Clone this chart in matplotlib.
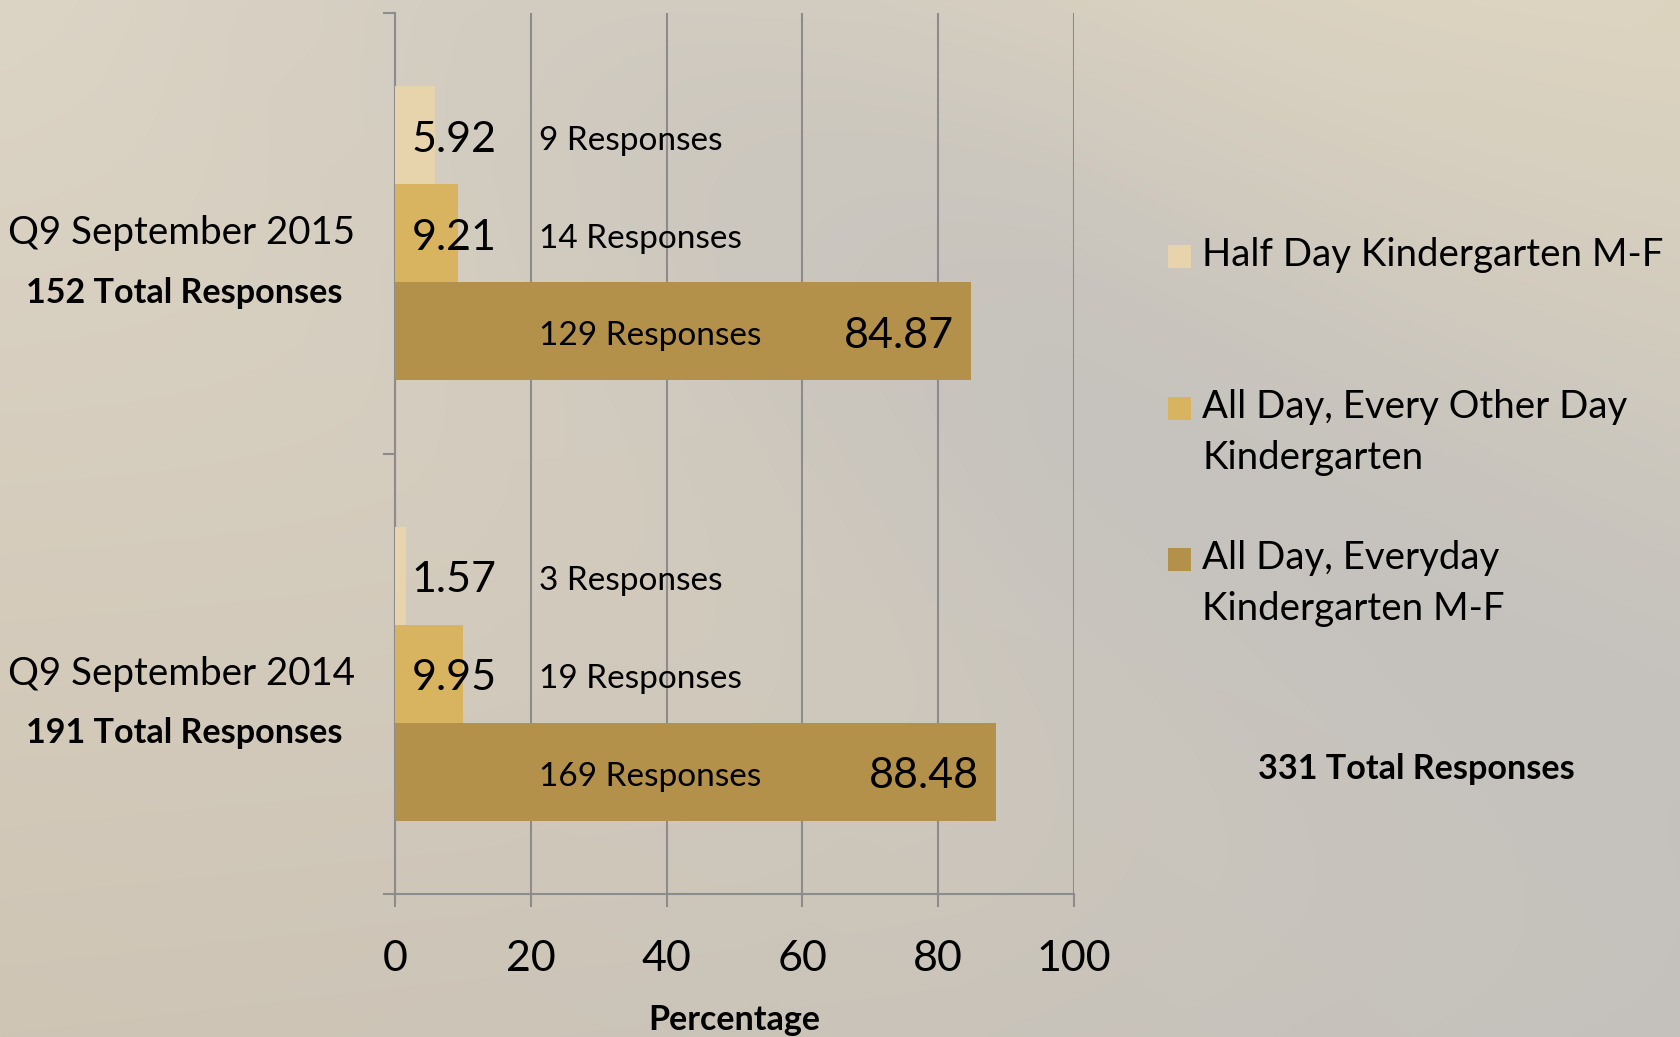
import numpy as np
import matplotlib
matplotlib.use("Agg")
import matplotlib.pyplot as plt
from matplotlib.patches import Rectangle

# ---------------- data ----------------
categories = ["Q9 September 2014", "Q9 September 2015"]
category_totals = ["191 Total Responses", "152 Total Responses"]
series_names = ["Half Day Kindergarten M-F",
                "All Day, Every Other Day\nKindergarten",
                "All Day, Everyday\nKindergarten M-F"]
half_day = [1.57, 5.92]
every_other = [9.95, 9.21]
everyday = [88.48, 84.87]
half_day_resp = ["3 Responses", "9 Responses"]
every_other_resp = ["19 Responses", "14 Responses"]
everyday_resp = ["169 Responses", "129 Responses"]
grand_total = "331 Total Responses"
x_ticks = [0, 20, 40, 60, 80, 100]
x_label = "Percentage"

colors = ["#e8d4ac", "#d9b460", "#b3914b"]
FONT = "Lato"

W, H = 1680, 1037
fig = plt.figure(figsize=(W / 100, H / 100), dpi=100)

# ---------- background gradient ----------
bg = fig.add_axes([0, 0, 1, 1], zorder=-10)
yy, xx = np.mgrid[0:1:200j, 0:1:320j]
tl = np.array([220, 212, 197]); tr = np.array([221, 212, 192])
bl = np.array([207, 197, 181]); br = np.array([197, 194, 189])
base = (tl[None, None] * ((1 - xx) * (1 - yy))[..., None]
        + tr[None, None] * (xx * (1 - yy))[..., None]
        + bl[None, None] * ((1 - xx) * yy)[..., None]
        + br[None, None] * (xx * yy)[..., None])
gray = np.array([196, 193, 189])
v = xx - yy
w = np.exp(-((v - 0.25) / 0.35) ** 2) * np.clip(xx * 1.6, 0, 1) * 0.85
img = base * (1 - w[..., None]) + gray[None, None] * w[..., None]
bg.imshow(img / 255.0, aspect="auto", extent=[0, 1, 0, 1], interpolation="bilinear")
bg.axis("off")

# ---------- main axes ----------
ax = fig.add_axes([395 / W, 1 - 894 / H, (1074 - 395) / W, (894 - 13) / H])
ax.set_facecolor("none")

y = np.arange(len(categories))
h = 1 / 4.5
series = [half_day, every_other, everyday]
resps = [half_day_resp, every_other_resp, everyday_resp]
offsets = [h, 0, -h]
for vals, off, c in zip(series, offsets, colors):
    ax.barh(y + off, vals, height=h, color=c, zorder=3, linewidth=0)

ax.set_xlim(0, 100)
ax.set_ylim(-0.5, 1.5)
ax.set_xticks(x_ticks)
ax.set_xticklabels([str(t) for t in x_ticks], fontsize=31, family=FONT)
ax.set_yticks([-0.5, 0.5, 1.5])
ax.set_yticklabels([])
ax.grid(axis="x", color="#8c8c8c", linewidth=1.5, zorder=1)
ax.tick_params(axis="both", color="#8c8c8c", width=1.5, length=9, direction="out")
ax.tick_params(axis="x", pad=24)
for s in ["top", "right"]:
    ax.spines[s].set_visible(False)
for s in ["left", "bottom"]:
    ax.spines[s].set_color("#8c8c8c")
    ax.spines[s].set_linewidth(1.5)
ax.set_xlabel(x_label, fontsize=24.5, fontweight="bold", family=FONT, labelpad=19)

# value labels and response labels
resp_dy = [0.015, 0.0, -0.01]
for i in range(len(categories)):
    for k, (vals, off) in enumerate(zip(series, offsets)):
        yc = y[i] + off
        if k < 2:
            ax.text(2.4, yc - 0.01, f"{vals[i]:.2f}", ha="left", va="center",
                    fontsize=31, family=FONT, zorder=5)
        else:
            ax.text(vals[i] - 2.5, yc - 0.01, f"{vals[i]:.2f}", ha="right", va="center",
                    fontsize=31, family=FONT, zorder=5)
        ax.text(21.2, yc - 0.012, resps[k][i], ha="left", va="center",
                fontsize=24, family=FONT, zorder=5)

# category labels
trans = ax.get_yaxis_transform()
for i in range(len(categories)):
    ax.text(-0.315, y[i], categories[i], transform=trans, ha="center", va="center",
            fontsize=27.7, family=FONT)
    ax.text(-0.311, y[i] - 0.135, category_totals[i], transform=trans, ha="center",
            va="center", fontsize=24.6, fontweight="bold", family=FONT)

# legend (manual)
legend_y = [[255], [407, 458], [558, 609]]
for name, c, ys in zip(series_names, colors, legend_y):
    fig.patches.append(Rectangle((1168 / W, 1 - 268 / H + (255 - ys[0]) / H),
                                 23 / W, 23 / H, transform=fig.transFigure,
                                 facecolor=c, edgecolor="none"))
    for line, yl in zip(name.split("\n"), ys):
        fig.text(1202 / W, 1 - yl / H, line, ha="left", va="center",
                 fontsize=27.6, family=FONT)

fig.text(1416 / W, 1 - 769 / H, grand_total, ha="center", va="center",
         fontsize=24.6, fontweight="bold", family=FONT)

fig.savefig("out.png", dpi=100)
